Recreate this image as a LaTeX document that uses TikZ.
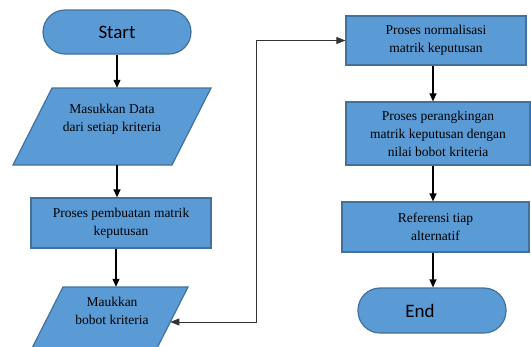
\documentclass[tikz,border=0pt]{standalone}
\usepackage{fontspec}
\setmainfont{Liberation Serif}
\newfontfamily\calfont{Carlito}
\usetikzlibrary{arrows.meta}
\definecolor{boxfill}{HTML}{5B9BD5}
\definecolor{boxline}{HTML}{41719C}
\begin{document}
\begin{tikzpicture}[x=1pt,y=-1pt,
 shapestyle/.style={draw=boxline,fill=boxfill,line width=1.2pt},
 procbox/.style={shapestyle,rectangle,inner sep=0pt,align=center,font=\fontsize{13.5}{18}\selectfont},
 termbox/.style={shapestyle,rectangle,rounded corners=22pt,inner sep=0pt,font=\calfont\fontsize{19}{22}\selectfont},
 ghost/.style={rectangle,inner sep=0pt,minimum width=10pt},
 txtlabel/.style={align=center,font=\fontsize{13.5}{18}\selectfont,inner sep=0pt},
 flow/.style={-{Triangle[length=8pt,width=7pt]},line width=1.3pt,black},
 link/.style={{Triangle[length=9pt,width=7pt]}-{Triangle[length=9pt,width=7pt]},line width=0.8pt,black!80}]
\useasboundingbox (0,0) rectangle (531,346);
\clip (0,0) rectangle (531,346);
% left column
\node[termbox,minimum width=148pt,minimum height=44pt] (start) at (117,32) {Start};
\path[shapestyle] (52,88)--(211,88)--(172,165)--(13,165)--cycle;
\node[ghost,minimum height=77pt] (para1) at (117,126.5) {};
\node[txtlabel] (para1t) at (112,119) {Masukkan Data\\dari setiap kriteria};
\node[procbox,minimum width=180pt,minimum height=50pt] (r1) at (121,223) {Proses pembuatan matrik\\keputusan};
\path[shapestyle] (63,287)--(188,287)--(149,364)--(24,364)--cycle;
\node[ghost,minimum height=77pt] (para2) at (116,325.5) {};
\node[txtlabel] (para2t) at (112,311) {Maukkan\\bobot kriteria};
\coordinate (p2in) at (170.3,322);
% right column
\node[procbox,minimum width=180pt,minimum height=49pt] (r2) at (436,40.5) {Proses normalisasi\\matrik keputusan};
\node[procbox,minimum width=184pt,minimum height=63pt] (r3) at (438,133.5) {Proses perangkingan\\matrik keputusan dengan\\nilai bobot kriteria};
\node[procbox,minimum width=187pt,minimum height=50pt] (r4) at (435.5,227) {Referensi tiap\\alternatif};
\node[termbox,minimum width=148pt,minimum height=45pt] (end) at (432,310.5) {End\hspace*{24pt}};
\coordinate (col) at (433,0);
% connectors
\draw[flow] (start.south) -- (para1.north);
\draw[flow] (para1.south) -- (para1.south |- r1.north);
\draw[flow] (para2.north |- r1.south) -- (para2.north);
\draw[link] (p2in) -- ++(85.7,0) |- (r2.west);
\draw[flow] (r2.south -| col) -- (r3.north -| col);
\draw[flow] (r3.south -| col) -- (r4.north -| col);
\draw[flow] (r4.south -| col) -- (end.north -| col);
\end{tikzpicture}
\end{document}
